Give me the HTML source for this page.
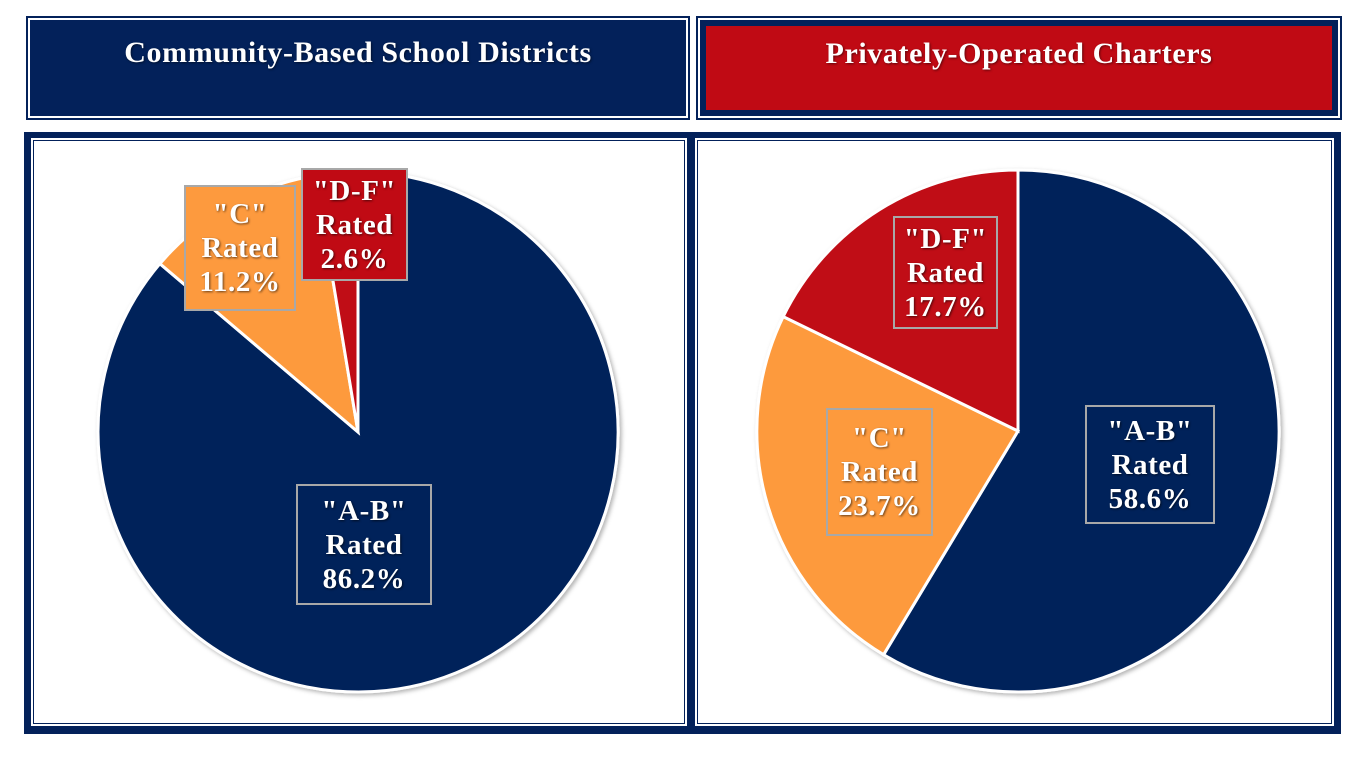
<!DOCTYPE html><html><head><style>
body{margin:0;width:1368px;height:774px;background:#fff;position:relative;overflow:hidden;font-family:"Liberation Serif",serif}
.a{position:absolute;box-sizing:border-box}
.t{color:#fff;font-weight:bold;font-size:30px;letter-spacing:0.6px;text-align:center;text-shadow:1px 1px 2px rgba(0,0,0,.5)}
.lb{position:absolute;box-sizing:border-box;border:2px solid #a8a8a8;color:#fff;font-weight:bold;font-size:29px;letter-spacing:0.6px;line-height:34px;text-align:center;display:flex;flex-direction:column;justify-content:center;text-shadow:1px 1px 2px rgba(0,0,0,.6)}
</style></head><body>
<div class="a" style="left:26px;top:16px;width:664px;height:104px;border:2px solid #03215a;padding:2px"><div class="t" style="background:#03215a;height:96px;line-height:66px">Community-Based School Districts</div></div>
<div class="a" style="left:696px;top:16px;width:646px;height:104px;border:2px solid #03215a;padding:2px"><div style="background:#03215a;height:96px;padding:6px;box-sizing:border-box"><div class="t" style="background:#c00a14;height:84px;line-height:56px">Privately-Operated Charters</div></div></div>
<div class="a" style="left:24px;top:132px;width:1317px;height:602px;background:#03215a"></div>
<div class="a" style="left:31px;top:138px;width:656px;height:588px;background:#fff;padding:2px"><div style="border:1.5px solid #03215a;height:100%;box-sizing:border-box"></div></div>
<div class="a" style="left:695px;top:138px;width:639px;height:588px;background:#fff;padding:2px"><div style="border:1.5px solid #03215a;height:100%;box-sizing:border-box"></div></div>
<svg class="a" style="left:0;top:0" width="1368" height="774">
<defs><filter id="s"><feDropShadow dx="2" dy="2" stdDeviation="2" flood-opacity=".3"/></filter></defs>
<g stroke="#fff" stroke-width="3" filter="url(#s)">
<path d="M358,432 L358,172 A260,260 0 1 1 159.9,263.7 Z" fill="#03215a"/>
<path d="M358,432 L159.9,263.7 A260,260 0 0 1 315.6,175.5 Z" fill="#fd9a3e"/>
<path d="M358,432 L315.6,175.5 A260,260 0 0 1 358,172 Z" fill="#c00a14"/>
<path d="M1018,431 L1018,170 A261,261 0 1 1 883.6,654.7 Z" fill="#03215a"/>
<path d="M1018,431 L883.6,654.7 A261,261 0 0 1 783.2,316.6 Z" fill="#fd9a3e"/>
<path d="M1018,431 L783.2,316.6 A261,261 0 0 1 1018,170 Z" fill="#c00a14"/>
</g></svg>
<div class="lb" style="left:184px;top:185px;width:112px;height:126px;background:#fd9a3e">"C"<br>Rated<br>11.2%</div>
<div class="lb" style="left:301px;top:168px;width:107px;height:113px;background:#c00a14">"D-F"<br>Rated<br>2.6%</div>
<div class="lb" style="left:296px;top:484px;width:136px;height:121px">"A-B"<br>Rated<br>86.2%</div>
<div class="lb" style="left:893px;top:216px;width:105px;height:113px">"D-F"<br>Rated<br>17.7%</div>
<div class="lb" style="left:826px;top:408px;width:107px;height:128px">"C"<br>Rated<br>23.7%</div>
<div class="lb" style="left:1085px;top:405px;width:130px;height:119px">"A-B"<br>Rated<br>58.6%</div>
</body></html>
